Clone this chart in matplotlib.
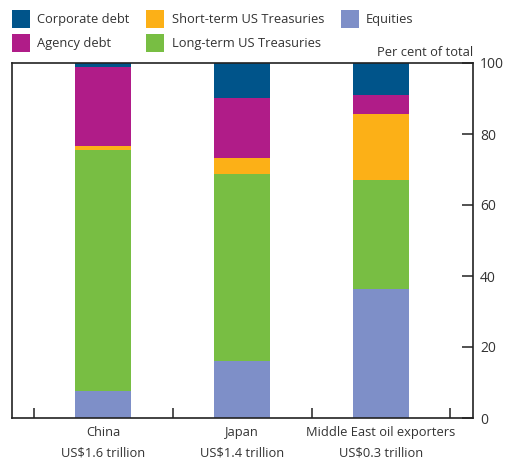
import numpy as np
import matplotlib.pyplot as plt
from matplotlib.patches import Patch

plt.rcParams['font.family'] = ['Open Sans', 'DejaVu Sans']

# Composition of US asset holdings, per cent of total
regions = ['China\nUS$1.6 trillion', 'Japan\nUS$1.4 trillion',
           'Middle East oil exporters\nUS$0.3 trillion']
equities = [7.6, 16.1, 36.3]
long_term = [67.9, 52.6, 30.7]
short_term = [1.2, 4.5, 18.6]
agency = [22.3, 16.9, 5.4]
corporate = [1.0, 9.9, 9.0]

series = [
    ('Equities', equities, '#7e8fc8'),
    ('Long-term US Treasuries', long_term, '#78be43'),
    ('Short-term US Treasuries', short_term, '#fcb017'),
    ('Agency debt', agency, '#b01c88'),
    ('Corporate debt', corporate, '#00548a'),
]

fs = 9.3
fig = plt.figure(figsize=(5.08, 4.63), dpi=100)
ax = fig.add_axes([12 / 508, 45 / 463, 461 / 508, 355 / 463])

x = np.arange(len(regions))
bottom = np.zeros(len(regions))
for name, vals, col in series:
    ax.bar(x, vals, width=0.4, bottom=bottom, color=col, label=name, zorder=2)
    bottom += np.array(vals)

ax.set_xlim(-0.655, 2.662)
ax.set_ylim(0, 100)

# y axis on the right with inward ticks
ax.yaxis.tick_right()
ax.set_yticks([0, 20, 40, 60, 80, 100])
ax.tick_params(axis='y', direction='in', length=8, width=1.2, color='#333333',
               labelsize=10, labelcolor='#333333', pad=5)

ax.set_xticks(x)
ax.set_xticklabels(regions, linespacing=1.75)
ax.tick_params(axis='x', length=0, labelsize=fs, labelcolor='#333333', pad=6)
ax.set_xticks([-0.5, 0.5, 1.5, 2.5], minor=True)
ax.tick_params(axis='x', which='minor', direction='in', length=7, width=1.2,
               color='#333333')

for sp in ax.spines.values():
    sp.set_color('#222222')
    sp.set_linewidth(1.2)

fig.text(473 / 508, 1 - 52 / 463, 'Per cent of total', ha='right', va='center',
         fontsize=fs, color='#333333')

# legend, order: Corporate, Agency | Short-term, Long-term | Equities
order = ['Corporate debt', 'Agency debt', 'Short-term US Treasuries',
         'Long-term US Treasuries', 'Equities']
cols = {n: c for n, _, c in series}
handles = [Patch(facecolor=cols[n], edgecolor='none', label=n) for n in order]
fig.legend(handles=handles, ncol=3, loc='upper left',
           bbox_to_anchor=(12 / 508, 1 - 10 / 463), frameon=False, fontsize=fs,
           borderpad=0, borderaxespad=0,
           handlelength=1.4, handleheight=1.75, handletextpad=0.55,
           columnspacing=1.3, labelspacing=0.45, labelcolor='#333333')

fig.savefig('out.png', dpi=100)
